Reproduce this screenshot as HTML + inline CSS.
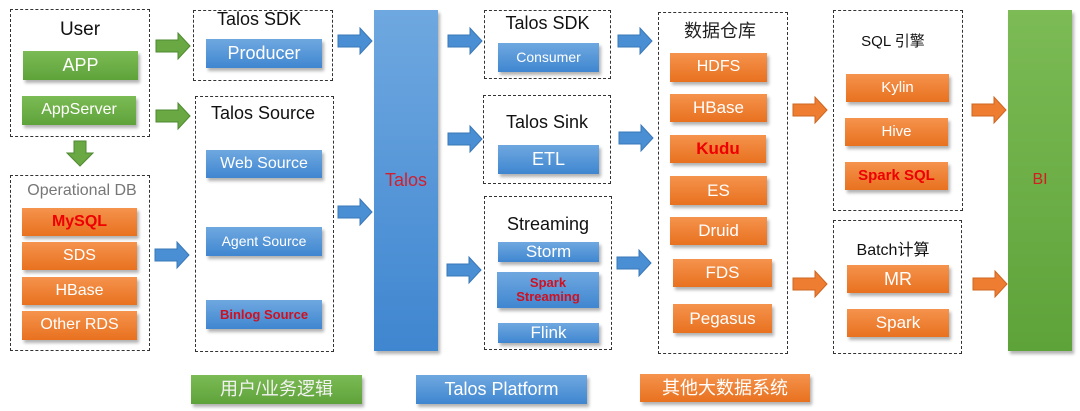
<!DOCTYPE html><html><head><meta charset="utf-8"><style>
body{margin:0;width:1080px;height:411px;background:#fff;position:relative;overflow:hidden;font-family:"Liberation Sans","Noto Sans CJK SC",sans-serif}
.d{position:absolute;border:1.5px dashed #333;box-sizing:border-box}
.b{position:absolute;display:flex;align-items:center;justify-content:center;color:#fff;box-shadow:2px 3px 3px rgba(0,0,0,.3);text-align:center;line-height:1.05}
.bl{background:linear-gradient(#6fa8e0,#3f86d0)}
.gr{background:linear-gradient(#7cbb55,#5ea23a)}
.or{background:linear-gradient(#f5934d,#e8711f)}
.t{position:absolute;color:#111;text-align:center}
.r{color:#e00;font-weight:bold}
svg{position:absolute;left:0;top:0}
</style></head><body>
<div class="d" style="left:10px;top:9px;width:140px;height:128px"></div>
<div class="t" style="left:10px;top:19px;width:140px;font-size:19px">User</div>
<div class="b gr" style="left:23px;top:51px;width:115px;height:29px;font-size:18px">APP</div>
<div class="b gr" style="left:22px;top:96px;width:114px;height:29px;font-size:16px">AppServer</div>
<div class="d" style="left:10px;top:175px;width:140px;height:176px"></div>
<div class="t" style="left:12px;top:182px;width:140px;font-size:16px;color:#777">Operational DB</div>
<div class="b or" style="left:22px;top:208px;width:115px;height:28px;font-size:16px"><span class="r">MySQL</span></div>
<div class="b or" style="left:22px;top:242px;width:115px;height:28px;font-size:16px">SDS</div>
<div class="b or" style="left:22px;top:277px;width:115px;height:28px;font-size:16px">HBase</div>
<div class="b or" style="left:22px;top:311px;width:115px;height:29px;font-size:16px">Other RDS</div>

<div class="d" style="left:193px;top:10px;width:140px;height:71px"></div>
<div class="t" style="left:193px;top:9px;width:132px;font-size:18px">Talos SDK</div>
<div class="b bl" style="left:206px;top:39px;width:116px;height:29px;font-size:18px">Producer</div>
<div class="d" style="left:195px;top:96px;width:139px;height:256px"></div>
<div class="t" style="left:195px;top:103px;width:136px;font-size:18px">Talos Source</div>
<div class="b bl" style="left:206px;top:150px;width:116px;height:28px;font-size:16px">Web Source</div>
<div class="b bl" style="left:206px;top:227px;width:116px;height:29px;font-size:14px">Agent Source</div>
<div class="b bl" style="left:206px;top:300px;width:116px;height:29px;font-size:13px"><span class="r" style="color:#d01020">Binlog Source</span></div>

<div class="b bl" style="left:374px;top:10px;width:64px;height:341px;font-size:18px;color:#d02030">Talos</div>

<div class="d" style="left:484px;top:10px;width:127px;height:69px"></div>
<div class="t" style="left:484px;top:13px;width:127px;font-size:18px">Talos SDK</div>
<div class="b bl" style="left:498px;top:43px;width:101px;height:29px;font-size:14px">Consumer</div>
<div class="d" style="left:483px;top:95px;width:128px;height:89px"></div>
<div class="t" style="left:483px;top:112px;width:128px;font-size:18px">Talos Sink</div>
<div class="b bl" style="left:498px;top:145px;width:101px;height:29px;font-size:18px">ETL</div>
<div class="d" style="left:484px;top:196px;width:128px;height:154px"></div>
<div class="t" style="left:484px;top:214px;width:128px;font-size:18px">Streaming</div>
<div class="b bl" style="left:498px;top:242px;width:101px;height:20px;font-size:17px">Storm</div>
<div class="b bl" style="left:497px;top:272px;width:102px;height:36px;font-size:13px"><span class="r" style="color:#d01020">Spark<br>Streaming</span></div>
<div class="b bl" style="left:498px;top:323px;width:101px;height:20px;font-size:17px">Flink</div>

<div class="d" style="left:658px;top:12px;width:130px;height:342px"></div>
<div class="t" style="left:658px;top:17px;width:124px;font-size:18px;color:#222">数据仓库</div>
<div class="b or" style="left:670px;top:53px;width:97px;height:29px;font-size:16px">HDFS</div>
<div class="b or" style="left:670px;top:94px;width:97px;height:28px;font-size:17px">HBase</div>
<div class="b or" style="left:670px;top:135px;width:96px;height:28px;font-size:17px"><span class="r">Kudu</span></div>
<div class="b or" style="left:670px;top:176px;width:97px;height:29px;font-size:17px">ES</div>
<div class="b or" style="left:670px;top:217px;width:97px;height:28px;font-size:17px">Druid</div>
<div class="b or" style="left:673px;top:259px;width:99px;height:28px;font-size:17px">FDS</div>
<div class="b or" style="left:673px;top:304px;width:99px;height:29px;font-size:17px">Pegasus</div>

<div class="d" style="left:833px;top:10px;width:130px;height:201px"></div>
<div class="t" style="left:833px;top:30px;width:120px;font-size:15px">SQL 引擎</div>
<div class="b or" style="left:846px;top:74px;width:103px;height:28px;font-size:15px">Kylin</div>
<div class="b or" style="left:845px;top:118px;width:103px;height:28px;font-size:15px">Hive</div>
<div class="b or" style="left:845px;top:162px;width:103px;height:28px;font-size:15px"><span class="r">Spark SQL</span></div>
<div class="d" style="left:833px;top:220px;width:129px;height:134px"></div>
<div class="t" style="left:833px;top:236px;width:120px;font-size:16px">Batch计算</div>
<div class="b or" style="left:847px;top:265px;width:102px;height:28px;font-size:18px">MR</div>
<div class="b or" style="left:847px;top:309px;width:102px;height:28px;font-size:17px">Spark</div>

<div class="b gr" style="left:1008px;top:10px;width:64px;height:341px;font-size:16px;color:#d02020">BI</div>

<div class="b gr" style="left:191px;top:375px;width:171px;height:29px;font-size:18px;color:#f3f3f3">用户/业务逻辑</div>
<div class="b bl" style="left:416px;top:375px;width:171px;height:29px;font-size:18px">Talos Platform</div>
<div class="b or" style="left:640px;top:374px;width:170px;height:28px;font-size:18px">其他大数据系统</div>

<svg width="1080" height="411">
<defs>
<g id="ar"><polygon points="0,-6 22,-6 22,-13 34,0 22,13 22,6 0,6"/></g>
<g id="dn"><polygon points="-6,0 6,0 6,12 13,12 0,25 -13,12 -6,12"/></g>
</defs>
<g fill="#6aa843" stroke="#4f8a30" stroke-width="1">
<use href="#ar" x="156" y="46"/><use href="#ar" x="156" y="116"/><use href="#dn" x="80" y="141"/>
</g>
<g fill="#4a8ed4" stroke="#3a78b8" stroke-width="1">
<use href="#ar" x="155" y="255"/><use href="#ar" x="338" y="41"/><use href="#ar" x="338" y="212"/>
<use href="#ar" x="448" y="41"/><use href="#ar" x="448" y="139"/><use href="#ar" x="447" y="270"/>
<use href="#ar" x="618" y="41"/><use href="#ar" x="619" y="138"/><use href="#ar" x="617" y="263"/>
</g>
<g fill="#ee7d31" stroke="#cc6620" stroke-width="1">
<use href="#ar" x="793" y="110"/><use href="#ar" x="793" y="284"/>
<use href="#ar" x="972" y="110"/><use href="#ar" x="973" y="284"/>
</g>
</svg>
</body></html>
